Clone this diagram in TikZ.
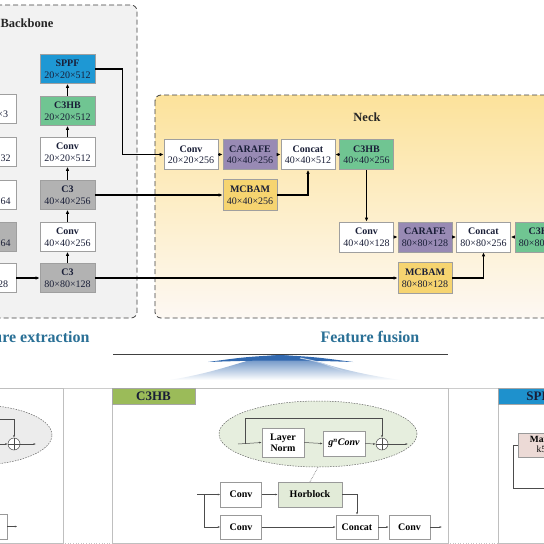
\documentclass[tikz,border=0pt]{standalone}
\usepackage{fontspec}
\setmainfont{Liberation Serif}
\usetikzlibrary{arrows.meta,shapes.geometric}
\definecolor{BackGray}{RGB}{242,242,242}
\definecolor{NeckTop}{RGB}{252,226,155}
\definecolor{NeckMid}{RGB}{253,238,200}
\definecolor{NeckBot}{RGB}{253,248,243}
\definecolor{SppfBlue}{RGB}{30,152,212}
\definecolor{HbGreen}{RGB}{112,197,146}
\definecolor{C3Gray}{RGB}{178,178,178}
\definecolor{CarPurple}{RGB}{152,138,180}
\definecolor{McGold}{RGB}{246,212,112}
\definecolor{TitleBlue}{RGB}{42,112,150}
\definecolor{HeadGreen}{RGB}{155,187,89}
\definecolor{HeadBlue}{RGB}{30,145,205}
\definecolor{EllGreen}{RGB}{230,238,222}
\definecolor{EllGray}{RGB}{236,236,236}
\definecolor{HorGreen}{RGB}{226,235,216}
\definecolor{PoolPink}{RGB}{236,218,214}
\definecolor{DarkTxt}{RGB}{25,30,55}
\definecolor{Swoosh}{RGB}{50,105,175}

\begin{document}
\begin{tikzpicture}[x=1pt,y=-1pt,>={Latex[length=4pt,width=3.5pt]},
  blk/.style={draw=gray!75,line width=0.6pt,minimum width=55pt,minimum height=29pt,inner sep=0pt,align=center,font=\fontsize{10}{11.5}\selectfont,text=DarkTxt},
  sub/.style={draw=gray!80,line width=0.5pt,fill=white,minimum width=41pt,minimum height=25pt,inner sep=0pt,align=center,font=\bfseries\fontsize{10}{11}\selectfont},
  link/.style={->,line width=1.4pt},
  flow/.style={->,>={Latex[length=2.5pt,width=2pt]},line width=0.5pt,draw=black!70},
  plus/.style={circle,draw=black!70,line width=0.5pt,minimum size=12pt,inner sep=0pt,fill=white,
    path picture={\draw[black!70] (path picture bounding box.north) -- (path picture bounding box.south)
      (path picture bounding box.west) -- (path picture bounding box.east);}},
  panel/.style={draw=black!75,dash pattern=on 5pt off 3pt,line width=0.8pt,rounded corners=6pt},
  title/.style={font=\bfseries\fontsize{16}{18}\selectfont,text=TitleBlue}]
  \useasboundingbox (0,0) rectangle (544,544);
  \clip (0,0) rectangle (544,544);
  \fill[white] (0,0) rectangle (544,544);

  \path[panel,fill=BackGray] (-20,5) rectangle (137,318);
  \node[anchor=west,font=\bfseries\fontsize{12.5}{14}\selectfont,text=black!85] (bbt) at (-3,23) {Backbone};
  \path[panel,top color=NeckTop,bottom color=NeckBot,middle color=NeckMid] (155,95) rectangle (570,318);
  \node[font=\bfseries\fontsize{12.5}{14}\selectfont,text=black!85] (nkt) at (367,117) {Neck};

  \node[blk,fill=white,minimum width=62pt] (in) at (-15,109) {\textbf{Input}\\640×640×3};
  \node[blk,fill=white,minimum width=62pt] (bcv1) at (-15,152) {\textbf{Conv}\\320×320×32};
  \node[blk,fill=white,minimum width=62pt] (bcv2) at (-15,195) {\textbf{Conv}\\160×160×64};
  \node[blk,fill=C3Gray,minimum width=62pt] (bc31) at (-15,237) {\textbf{C3}\\160×160×64};
  \node[blk,fill=white,minimum width=62pt] (bcv3) at (-15,278) {\textbf{Conv}\\80×80×128};

  \node[blk,fill=SppfBlue] (sppf) at (67.5,69) {\textbf{SPPF}\\20×20×512};
  \node[blk,fill=HbGreen] (bhb) at (67.5,111) {\textbf{C3HB}\\20×20×512};
  \node[blk,fill=white] (bcv5) at (67.5,152) {\textbf{Conv}\\20×20×512};
  \node[blk,fill=C3Gray] (bc33) at (67.5,195) {\textbf{C3}\\40×40×256};
  \node[blk,fill=white] (bcv4) at (67.5,237) {\textbf{Conv}\\40×40×256};
  \node[blk,fill=C3Gray] (bc32) at (67.5,278) {\textbf{C3}\\80×80×128};

  \draw[link] (bcv3.east) -- (bc32.west);
  \draw[link] (bc32.north) -- (bcv4.south);
  \draw[link] (bcv4.north) -- (bc33.south);
  \draw[link] (bc33.north) -- (bcv5.south);
  \draw[link] (bcv5.north) -- (bhb.south);
  \draw[link] (bhb.north) -- (sppf.south);

  \node[blk,fill=white,minimum width=54pt,minimum height=30pt] (ncv1) at (191,154.5) {\textbf{Conv}\\20×20×256};
  \node[blk,fill=CarPurple,minimum width=54pt,minimum height=30pt] (car1) at (250,154.5) {\textbf{CARAFE}\\40×40×256};
  \node[blk,fill=white,minimum width=54pt,minimum height=30pt] (cat1) at (308,154.5) {\textbf{Concat}\\40×40×512};
  \node[blk,fill=HbGreen,minimum width=54pt,minimum height=30pt] (nhb1) at (366.5,154.5) {\textbf{C3HB}\\40×40×256};
  \node[blk,fill=McGold,minimum width=54pt,minimum height=31pt] (mc1) at (250,195) {\textbf{MCBAM}\\40×40×256};

  \node[blk,fill=white,minimum width=54pt,minimum height=30pt] (ncv2) at (366.5,237) {\textbf{Conv}\\40×40×128};
  \node[blk,fill=CarPurple,minimum width=54pt,minimum height=30pt] (car2) at (425,237) {\textbf{CARAFE}\\80×80×128};
  \node[blk,fill=white,minimum width=54pt,minimum height=30pt] (cat2) at (483.5,237) {\textbf{Concat}\\80×80×256};
  \node[blk,fill=HbGreen,minimum width=54pt,minimum height=30pt] (nhb2) at (542,237) {\textbf{C3HB}\\80×80×128};
  \node[blk,fill=McGold,minimum width=54pt,minimum height=31pt] (mc2) at (425,278) {\textbf{MCBAM}\\80×80×128};

  \draw[link] (sppf.east) -- ++(27,0) |- (ncv1.west);
  \draw[link] (ncv1.east) -- (car1.west);
  \draw[link] (car1.east) -- (cat1.west);
  \draw[link] (nhb1.west) -- (cat1.east);
  \draw[link] (bc33.east) -- (mc1.west);
  \draw[link] (mc1.east) -| (cat1.south);
  \draw[link] (nhb1.south) -- (ncv2.north);
  \draw[link] (ncv2.east) -- (car2.west);
  \draw[link] (car2.east) -- (cat2.west);
  \draw[link] (nhb2.west) -- (cat2.east);
  \draw[link] (bc32.east) -- (mc2.west);
  \draw[link] (mc2.east) -| (cat2.south);

  \node[title,anchor=east] (fe) at (93,337) {Feature extraction};
  \node[title] (ff) at (370,337) {Feature fusion};

  \shade[top color=Swoosh!85,bottom color=white] (170,380) .. controls (230,370) and (250,356) .. (280,355)
    .. controls (310,356) and (330,370) .. (400,380) -- cycle;
  \fill[Swoosh] (208,362) .. controls (245,357) .. (280,355) .. controls (315,357) .. (353,362)
    .. controls (300,360) and (260,360) .. (208,362);
  \draw[white!70!Swoosh,line width=1pt] (300,358) .. controls (320,362) .. (345,372);
  \draw[black!75,line width=1pt] (113,354) -- (448,354);

  \draw[gray!40,line width=0.5pt] (-5,388) -- (560,388);
  \draw[gray!50,dotted,line width=0.6pt] (-5,543) -- (560,543);
  \draw[gray!50,line width=0.5pt] (-5,388) rectangle (63,543);
  \draw[gray!50,line width=0.5pt] (112,388) rectangle (448,543);
  \draw[gray!50,line width=0.5pt] (498,388) rectangle (570,543);
  \node[draw=gray!70,fill=HeadGreen,minimum width=83pt,minimum height=16pt,inner sep=0pt,font=\bfseries\fontsize{13}{14}\selectfont,text=DarkTxt] (hbh) at (153.5,396) {C3HB};
  \node[draw=gray!70,fill=HeadBlue,minimum width=88pt,minimum height=16pt,inner sep=0pt,font=\bfseries\fontsize{13}{14}\selectfont,text=DarkTxt] (sph) at (542,396) {SPPF};

  \node[ellipse,draw=black!60,dash pattern=on 1.5pt off 1.2pt,line width=0.5pt,fill=EllGray,minimum width=150pt,minimum height=60pt,inner sep=0pt] (lell) at (-23,435) {};
  \node[plus] (lpl) at (14,444) {};
  \coordinate (lin) at (-5,444);
  \coordinate (lsk) at (-5,419);
  \coordinate (lout) at (36,444);
  \draw[flow] (lin) -- (lpl.west);
  \draw[flow] (lsk) -| (lpl.north);
  \draw[flow] (lpl.east) -- (lout);
  \node[sub,minimum width=37pt] (lbox) at (-11.5,526.5) {};
  \draw[flow] (lbox.east) -- ++(10,0);

  \node[ellipse,draw=black!60,dash pattern=on 1.5pt off 1.2pt,line width=0.5pt,fill=EllGreen,minimum width=198pt,minimum height=66pt,inner sep=0pt] (gell) at (318,434) {};
  \node[sub,minimum width=42pt,minimum height=29pt] (ln) at (283,442.5) {Layer\\Norm};
  \node[sub,minimum width=42pt] (gc) at (344,443.5) {\itshape g\textsuperscript{n}Conv};
  \node[plus] (gpl) at (382,444) {};
  \coordinate (gin) at (238,444);
  \coordinate (gbr) at (245,444);
  \coordinate (gout) at (408,444);
  \draw[flow] (gin) -- (ln.west);
  \draw[flow] (gbr) -- ++(0,-26) -| (gpl.north);
  \draw[flow] (ln.east) -- (gc.west);
  \draw[flow] (gc.east) -- (gpl.west);
  \draw[flow] (gpl.east) -- (gout);

  \node[sub,fill=HorGreen,minimum width=64pt] (hb) at (310,494.5) {Horblock};
  \node[sub] (cva) at (241,494.5) {Conv};
  \node[sub,minimum height=24pt] (cvb) at (241,527) {Conv};
  \node[sub,minimum width=42pt,minimum height=24pt] (cat) at (357,527) {Concat};
  \node[sub,minimum height=24pt] (cvc) at (409.5,527) {Conv};
  \coordinate (hin) at (197,494.5);
  \coordinate (hbr) at (204,494.5);
  \coordinate (hout) at (442,527);
  \draw[flow] (hin) -- (cva.west);
  \draw[flow] (hbr) |- (cvb.west);
  \draw[flow] (cva.east) -- (hb.west);
  \draw[flow] (hb.east) -| (cat.north);
  \draw[flow] (cvb.east) -- (cat.west);
  \draw[flow] (cat.east) -- (cvc.west);
  \draw[flow] (cvc.east) -- (hout);
  \draw[densely dotted,black!60,line width=0.6pt] (gell.south) -- (hb.north);

  \node[sub,fill=PoolPink,minimum width=60pt,minimum height=24pt,font=\fontsize{9.5}{10.5}\selectfont] (mp) at (548,445) {\textbf{MaxPool}\\k5, s1};
  \coordinate (spo) at (560,488);
  \draw[black!70,line width=0.5pt] (mp.west) -- ++(-5,0) |- (spo);
\end{tikzpicture}
\end{document}
